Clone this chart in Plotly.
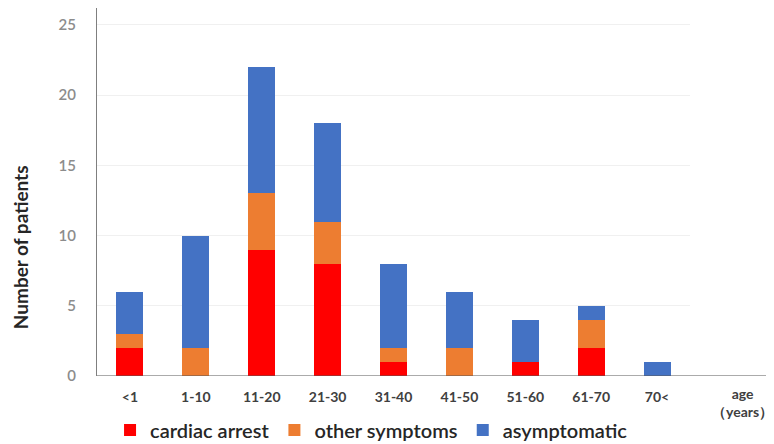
import plotly.graph_objects as go

categories = ["<1", "1-10", "11-20", "21-30", "31-40", "41-50", "51-60", "61-70", "70<"]
cardiac_arrest = [2, 0, 9, 8, 1, 0, 1, 2, 0]
other_symptoms = [1, 2, 4, 3, 1, 2, 0, 2, 0]
asymptomatic = [3, 8, 9, 7, 6, 4, 3, 1, 1]
y_ticks = [0, 5, 10, 15, 20, 25]

FONT = "Lato, Noto Sans, sans-serif"

fig = go.Figure()
fig.add_trace(go.Bar(x=categories, y=cardiac_arrest, name="cardiac arrest",
                     marker=dict(color="#FF0000", line=dict(width=0))))
fig.add_trace(go.Bar(x=categories, y=other_symptoms, name="other symptoms",
                     marker=dict(color="#ED7D31", line=dict(width=0))))
fig.add_trace(go.Bar(x=categories, y=asymptomatic, name="asymptomatic",
                     marker=dict(color="#4472C4", line=dict(width=0))))

fig.update_layout(
    width=766, height=436,
    margin=dict(l=89, r=84, t=0, b=68, autoexpand=False),
    barmode="stack",
    bargap=0.59,
    plot_bgcolor="white",
    paper_bgcolor="white",
    font=dict(family=FONT),
    legend=dict(
        orientation="h", x=0.022, xanchor="left", y=-0.147, yanchor="middle",
        font=dict(size=20, color="#262626", family=FONT, weight=600),
        itemwidth=30, traceorder="normal",
    ),
    xaxis=dict(
        showline=False, showgrid=False, zeroline=False,
        ticks="outside", ticklen=8, tickcolor="rgba(0,0,0,0)",
        tickfont=dict(size=14, color="#404040", family=FONT, weight=700),
    ),
    yaxis=dict(
        range=[0, 26.2], tickvals=y_ticks,
        showline=True, linecolor="#7f7f7f", linewidth=1,
        showgrid=True, gridcolor="#F0F0F0", zeroline=False,
        ticks="outside", ticklen=17, tickcolor="rgba(0,0,0,0)",
        tickfont=dict(size=15, color="#8c8c8c", family=FONT, weight=600),
    ),
    shapes=[dict(type="line", xref="paper", yref="y", x0=0, x1=1.15, y0=0, y1=0,
                 line=dict(color="#595959", width=1.2))],
    annotations=[
        dict(text="Number of patients", xref="paper", yref="paper", x=0, y=0.35,
             xshift=-77, textangle=-90, showarrow=False,
             xanchor="center", yanchor="middle",
             font=dict(size=19, color="#262626", family=FONT, weight=700)),
        dict(text="age<br>（years）", xref="paper", yref="paper", x=1.089, y=-0.072,
             showarrow=False, xanchor="center", yanchor="middle",
             font=dict(size=14, color="#404040", family=FONT, weight=700)),
    ],
)

fig.write_html("out.html")
